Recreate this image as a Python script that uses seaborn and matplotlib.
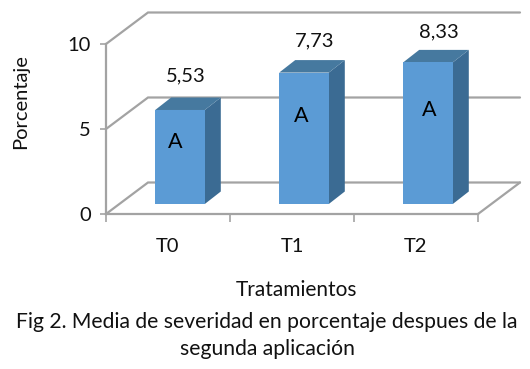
import matplotlib
matplotlib.use('Agg')
import matplotlib.pyplot as plt
from matplotlib.patches import Polygon
from matplotlib.transforms import Affine2D
import pandas as pd
import seaborn as sns

tratamientos = ["T0", "T1", "T2"]
media = [5.53, 7.73, 8.33]
etiquetas = ["5,53", "7,73", "8,33"]
letras = ["A", "A", "A"]
yticks = [0, 5, 10]

FRONT, SIDE, TOP = '#5B9BD5', '#3B6B93', '#46799F'
GRID = '#A3A3A3'

sns.set_theme(style='white')
plt.rcParams['font.family'] = ['Lato', 'DejaVu Sans']

W, H = 530, 369
fig = plt.figure(figsize=(W / 100, H / 100), dpi=100, facecolor='white')
ax = fig.add_axes([106 / W, (H - 214) / H, 372 / W, 170 / H])

# px -> data units on this axes
ux, uy = 3 / 372, 10 / 170

df = pd.DataFrame({'trat': tratamientos, 'media': media})
sns.barplot(data=df, x='trat', y='media', color=FRONT, saturation=1, width=0.4,
            ax=ax, zorder=3, linewidth=0)
ax.set_xlim(-0.5, 2.5)
ax.set_ylim(0, 10)
ax.patch.set_alpha(0)

# ── 3D walls ──
wall_x, wall_y = 42 * ux, 31.5 * uy
for t in yticks:
    ax.plot([-0.5, -0.5 + wall_x, 2.5 + wall_x], [t, t + wall_y, t + wall_y],
            color=GRID, lw=1.6, clip_on=False, zorder=1, solid_joinstyle='miter')
ax.plot([2.5, 2.5 + wall_x], [0, wall_y], color=GRID, lw=1.6, clip_on=False, zorder=1)

# ── bars pushed into the floor, with side and top faces ──
shift_x, shift_y = 12 * ux, 10 * uy
depth_x, depth_y = 16 * ux, 12.5 * uy
bars = list(ax.patches)
for bar, val in zip(bars, media):
    bar.set_transform(bar.get_data_transform() + Affine2D().translate(12, 10))
    bar.set_clip_on(False)
    x0 = bar.get_x() + shift_x
    x1 = x0 + bar.get_width()
    b = shift_y
    tp = val + shift_y
    ax.add_patch(Polygon([(x1, b), (x1 + depth_x, b + depth_y), (x1 + depth_x, tp + depth_y), (x1, tp)],
                         facecolor=SIDE, edgecolor='none', clip_on=False, zorder=2))
    ax.add_patch(Polygon([(x0, tp), (x1, tp), (x1 + depth_x, tp + depth_y), (x0 + depth_x, tp + depth_y)],
                         facecolor=TOP, edgecolor='none', clip_on=False, zorder=2))

# ── labels above and inside bars (pixel nudges) ──
lab_dx, lab_dy = [18, 23, 23], [34, 32, 31]
let_dx, let_dy = [7, 9, 13], [24.5, 32, 33.5]
for i, (val, lab, let) in enumerate(zip(media, etiquetas, letras)):
    ax.text(i + lab_dx[i] * ux, val + (10 + lab_dy[i]) * uy, lab, ha='center', va='center',
            fontsize=14.5, color='#111111', zorder=4)
    ax.text(i + let_dx[i] * ux, val / 2 + let_dy[i] * uy, let, ha='center', va='center',
            fontsize=15.5, color='black', zorder=4)

# ── axes ──
sns.despine(ax=ax, top=True, right=True)
for s in ['left', 'bottom']:
    ax.spines[s].set_color(GRID)
    ax.spines[s].set_linewidth(1.6)
ax.set_yticks(yticks)
ax.set_xticks([-0.5, 0.5, 1.5, 2.5], ['', '', '', ''])
ax.set_xticks([0, 1, 2], tratamientos, minor=True)
ax.tick_params(axis='y', length=4.5, width=1.2, color=GRID, labelsize=14.5, pad=6.5,
               labelcolor='#111111', left=True)
ax.tick_params(axis='x', which='major', length=6, width=1.2, color=GRID, bottom=True)
ax.tick_params(axis='x', which='minor', length=0, labelsize=14.5, pad=17, labelcolor='#111111')
ax.set_xlabel('')
ax.set_ylabel('')

fig.text(21 / W, 1 - 102 / H, 'Porcentaje', rotation=90, ha='center', va='center', fontsize=14.5, color='#111111')
fig.text(297 / W, 1 - 290 / H, 'Tratamientos', ha='center', va='center', fontsize=15, color='#111111')
fig.text(267 / W, 1 - 322 / H, 'Fig 2. Media de severidad en porcentaje despues de la',
         ha='center', va='center', fontsize=15.2, color='#111111')
fig.text(267 / W, 1 - 349 / H, 'segunda aplicación', ha='center', va='center', fontsize=15.2, color='#111111')

fig.savefig('out.png', dpi=100, facecolor='white')
plt.close()
